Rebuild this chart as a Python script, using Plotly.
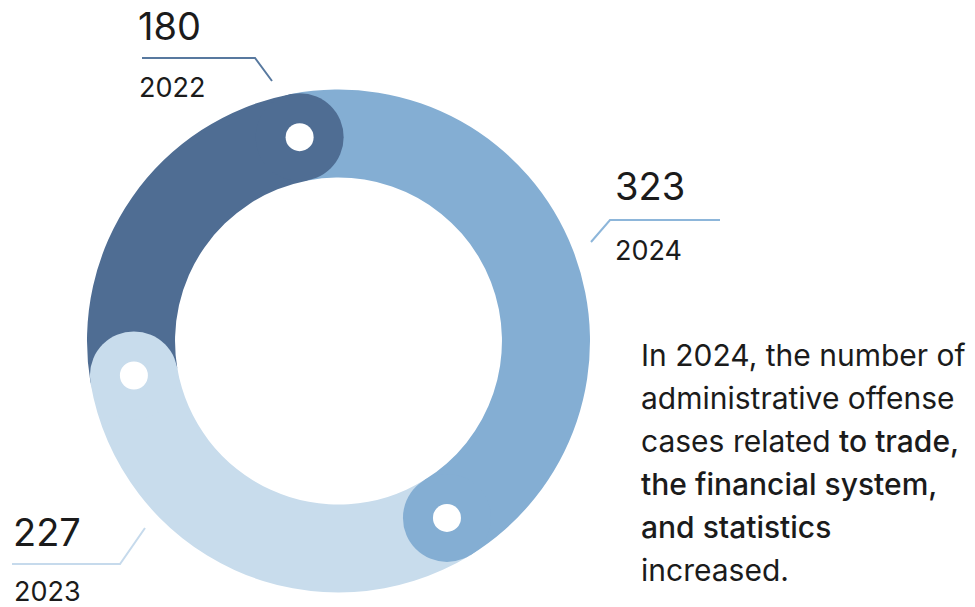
import math
import plotly.graph_objects as go

# ---- data ----
years = ["2024", "2023", "2022"]
cases = [323, 227, 180]
slice_colors = ["#84aed3", "#c8dcec", "#4f6d93"]
leader_colors = ["#8db6da", "#c6daec", "#58799f"]

note_lines = [
    "In 2024, the number of",
    "administrative offense",
    "cases related <span style='font-weight:500'>to trade,</span>",
    "<span style='font-weight:500'>the financial system,</span>",
    "<span style='font-weight:500'>and statistics</span>",
    "increased.",
]

# ---- geometry (pixels) ----
W, H = 975, 607
CX, CY = 338.5, 341.0
R_OUT = 251.5
HOLE = 0.65
START_DEG = -10.8  # first slice starts just left of 12 o'clock

FONT = "Inter, Roboto, sans-serif"
INK = "#1b1b1b"


def px(x, y):
    return x / W, 1 - y / H


# label layout per year: value text position, year text position, leader polyline
label_layout = {
    "2022": dict(value=(136, 26), year=(137, 88), path=[(142, 58), (255, 58), (272, 81)]),
    "2024": dict(value=(613, 186), year=(613, 250), path=[(591, 242), (610, 220), (720, 220)]),
    "2023": dict(value=(11, 532), year=(12, 591), path=[(12, 564), (120, 564), (145, 528)]),
}

fig = go.Figure()

x0, y1 = px(CX - R_OUT, CY - R_OUT)
x1, y0 = px(CX + R_OUT, CY + R_OUT)
fig.add_trace(go.Pie(
    labels=years,
    values=cases,
    sort=False,
    direction="clockwise",
    rotation=START_DEG,
    hole=HOLE,
    marker=dict(colors=slice_colors, line=dict(width=0)),
    textinfo="none",
    hoverinfo="label+value",
    showlegend=False,
    domain=dict(x=[x0, x1], y=[y0, y1]),
))

# rounded end caps with white dots, placed at each slice's clockwise end
total = sum(cases)
r_mid = R_OUT * (1 + HOLE) / 2
r_cap = R_OUT * (1 - HOLE) / 2
r_dot = 14
shapes = []
acc = 0
for val, col in zip(cases, slice_colors):
    acc += val
    ang = math.radians(START_DEG + 360 * acc / total)
    ex = CX + r_mid * math.sin(ang)
    ey = CY - r_mid * math.cos(ang)
    for rad, fill in ((r_cap, col), (r_dot, "white")):
        a0, b1 = px(ex - rad, ey - rad)
        a1, b0 = px(ex + rad, ey + rad)
        shapes.append(dict(type="circle", xref="paper", yref="paper",
                           x0=a0, x1=a1, y0=b0, y1=b1,
                           fillcolor=fill, line=dict(width=0), layer="above"))

annotations = []
for yr, val, lc in zip(years, cases, leader_colors):
    lay = label_layout[yr]
    pts = [px(*p) for p in lay["path"]]
    path = "M " + " L ".join(f"{a},{b}" for a, b in pts)
    shapes.append(dict(type="path", xref="paper", yref="paper", path=path,
                       line=dict(color=lc, width=2)))
    vx, vy = px(*lay["value"])
    annotations.append(dict(text=str(val), x=vx, y=vy, xref="paper", yref="paper",
                            xanchor="left", yanchor="middle", showarrow=False,
                            font=dict(family=FONT, size=38, color=INK)))
    yx, yy = px(*lay["year"])
    annotations.append(dict(text=yr, x=yx, y=yy, xref="paper", yref="paper",
                            xanchor="left", yanchor="middle", showarrow=False,
                            font=dict(family=FONT, size=27, color=INK)))

for i, line in enumerate(note_lines):
    lx, ly = px(639, 355 + 43 * i)
    annotations.append(dict(text=line, x=lx, y=ly, xref="paper", yref="paper",
                            xanchor="left", yanchor="middle", align="left",
                            showarrow=False,
                            font=dict(family=FONT, size=30, color=INK)))

fig.update_layout(
    width=W, height=H,
    margin=dict(l=0, r=0, t=0, b=0),
    paper_bgcolor="white",
    plot_bgcolor="white",
    shapes=shapes,
    annotations=annotations,
)

fig.write_html("out.html")
